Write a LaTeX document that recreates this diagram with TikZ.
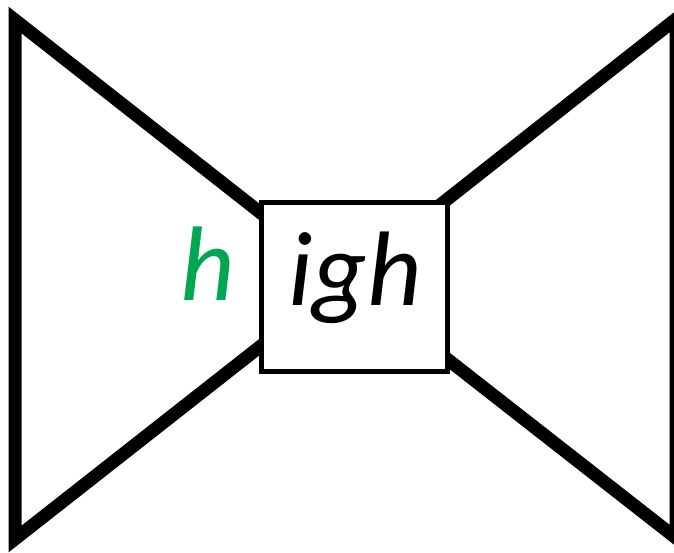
\documentclass[tikz,border=0pt]{standalone}
\usepackage{fontspec}
\newfontfamily\wordfont{Carlito}
\usepackage{xcolor}
\definecolor{soundgreen}{RGB}{0,166,81}
\begin{document}
\begin{tikzpicture}[x=1pt,y=-1pt,
	wing/.style={line width=13pt,line join=miter},
	frame/.style={draw,fill=white,line width=5pt,minimum width=186pt,minimum height=169pt,inner sep=0pt},
	word/.style={font=\wordfont\itshape\fontsize{106}{110}\selectfont,inner sep=0pt,anchor=base},
	]
	\useasboundingbox (0,0) rectangle (674,553);
	% common tip of both wings, hidden behind the box
	\coordinate (C) at (345.5,279.5);
	\coordinate (LT) at (15,20);
	\coordinate (LB) at (15,539);
	\coordinate (RT) at (676,19);
	\coordinate (RB) at (676,538);
	
	% the two wings
	\draw[wing] (LT) -- (LB) -- (C) -- cycle;
	\draw[wing] (RT) -- (RB) -- (C) -- cycle;
	
	% box in the middle
	\node[frame] (box) at (354,287) {};
	\node[word] (rest) at (355,305) {igh};
	\node[word,text=soundgreen] (first) at (208,300) {h};
\end{tikzpicture}
\end{document}
